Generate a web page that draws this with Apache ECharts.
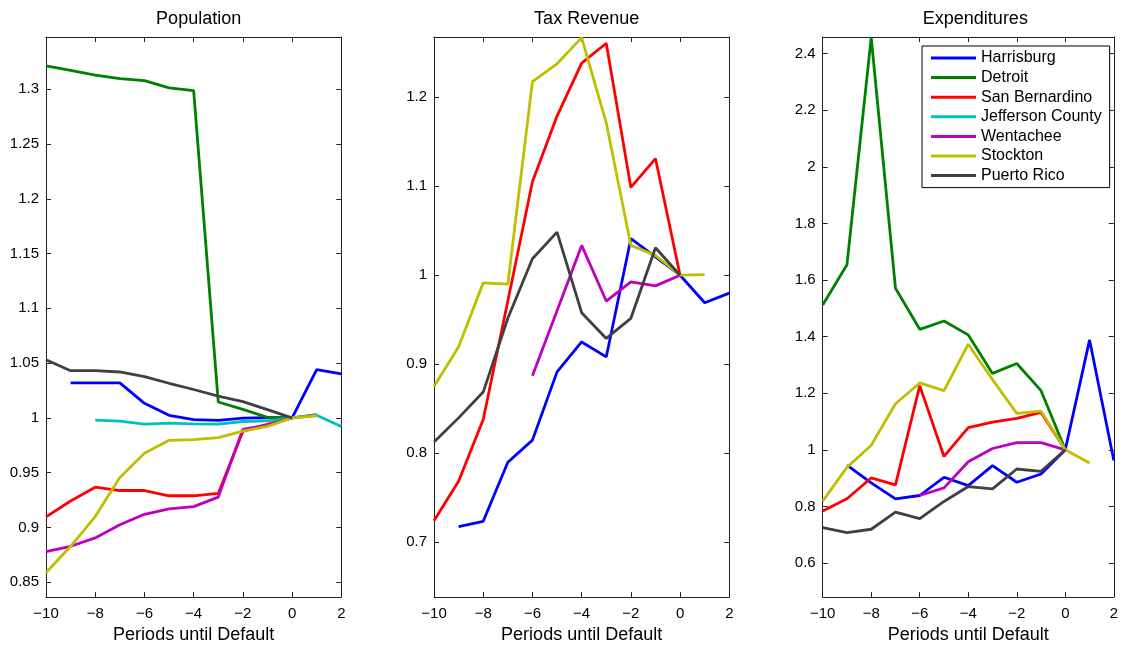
<!DOCTYPE html>
<html>
<head>
<meta charset="utf-8">
<script src="https://cdn.jsdelivr.net/npm/echarts@6/dist/echarts.min.js"></script>
<style>
html,body{margin:0;padding:0;background:#fff;}
#chart{width:1121px;height:649px;}
</style>
</head>
<body>
<div id="chart"></div>
<script>
// ---------- data ----------
const periods = [-10, -9, -8, -7, -6, -5, -4, -3, -2, -1, 0, 1, 2];
const cityNames = ['Harrisburg', 'Detroit', 'San Bernardino', 'Jefferson County', 'Wentachee', 'Stockton', 'Puerto Rico'];
const panelTitles = ['Population', 'Tax Revenue', 'Expenditures'];
const xTicks = [-10, -8, -6, -4, -2, 0, 2];

// Population
const popHarrisburg   = [null, 1.032, 1.032, 1.032, 1.0133, 1.0024, 0.9985, 0.9977, 0.9998, 1.0003, 1.0, 1.0441, 1.0402];
const popDetroit      = [1.3214, 1.3172, 1.313, 1.3097, 1.3079, 1.3012, 1.2988, 1.0145, 1.0078, 1.0005, 1.0, null, null];
const popSanBern      = [0.9096, 0.9241, 0.9367, 0.9337, 0.9337, 0.9289, 0.9289, 0.931, 0.9877, 0.994, 1.0, 1.003, null];
const popJefferson    = [null, null, 0.9979, 0.997, 0.9943, 0.9952, 0.9946, 0.9943, 0.9967, 0.9973, 1.0, 1.0024, 0.9922];
const popWentachee    = [0.878, 0.8828, 0.8904, 0.9024, 0.912, 0.9169, 0.919, 0.9277, 0.9895, 0.9937, 1.0, null, null];
const popStockton     = [0.8587, 0.8828, 0.9099, 0.9455, 0.9678, 0.9795, 0.9801, 0.9819, 0.988, 0.9922, 1.0, 1.0018, null];
const popPuertoRico   = [1.053, 1.0431, 1.0431, 1.0419, 1.0377, 1.0316, 1.0259, 1.0199, 1.0148, 1.0075, 1.0, null, null];

// Tax Revenue
const taxHarrisburg   = [null, 0.7175, 0.7235, 0.7898, 0.8147, 0.8914, 0.925, 0.9082, 1.041, 1.0205, 1.0, 0.9691, 0.9799];
const taxDetroit      = [null, null, null, null, null, null, null, null, null, null, null, null, null];
const taxSanBern      = [0.7242, 0.7685, 0.8378, 0.971, 1.105, 1.1788, 1.2384, 1.2607, 1.0987, 1.1311, 1.0, null, null];
const taxJefferson    = [null, null, null, null, null, null, null, null, null, null, null, null, null];
const taxWentachee    = [null, null, null, null, 0.887, 0.96, 1.0335, 0.971, 0.9926, 0.988, 1.0, null, null];
const taxStockton     = [0.875, 0.9197, 0.9914, 0.99, 1.2175, 1.2376, 1.267, 1.1713, 1.0335, 1.0223, 1.0, 1.0007, null];
const taxPuertoRico   = [0.8125, 0.8397, 0.8687, 0.9517, 1.0186, 1.0484, 0.9579, 0.929, 0.9516, 1.0309, 1.0, null, null];

// Expenditures
const expHarrisburg   = [null, 0.9462, 0.883, 0.8269, 0.8386, 0.9029, 0.8737, 0.9439, 0.8854, 0.9146, 1.0, 1.3883, 0.962];
const expDetroit      = [1.512, 1.654, 2.457, 1.571, 1.4257, 1.455, 1.406, 1.270, 1.305, 1.209, 1.0, null, null];
const expSanBern      = [0.7836, 0.8269, 0.9006, 0.876, 1.2269, 0.9766, 1.0784, 1.0982, 1.1111, 1.1322, 1.0, null, null];
const expJefferson    = [null, null, null, null, null, null, null, null, null, null, null, null, null];
const expWentachee    = [null, null, null, null, 0.8386, 0.8655, 0.9579, 1.0047, 1.0257, 1.0257, 1.0, null, null];
const expStockton     = [0.8187, 0.938, 1.0164, 1.1626, 1.2363, 1.2094, 1.3731, 1.248, 1.1287, 1.1368, 1.0, 0.9532, null];
const expPuertoRico   = [0.7251, 0.7076, 0.7193, 0.7801, 0.7567, 0.8175, 0.8702, 0.862, 0.9322, 0.924, 1.0, null, null];

// Y tick labels and ranges
const popTicks = [0.85, 0.9, 0.95, 1, 1.05, 1.1, 1.15, 1.2, 1.25, 1.3];
const taxTicks = [0.7, 0.8, 0.9, 1, 1.1, 1.2];
const expTicks = [0.6, 0.8, 1, 1.2, 1.4, 1.6, 1.8, 2, 2.2, 2.4];
const popRange = [0.8364, 1.3477];
const taxRange = [0.6383, 1.2677];
const expRange = [0.4796, 2.4586];

// ---------- styling ----------
const colors = ['#0000ff', '#008000', '#ff0000', '#00bfbf', '#bf00bf', '#bfbf00', '#404040'];
const FONT = '"Liberation Sans", Arial, Helvetica, sans-serif';
const AX = '#222';
const gridLefts = [46, 434, 822.7];
const gridW = 295.3, gridTop = 37, gridH = 564;

const panels = [
  { series: [popHarrisburg, popDetroit, popSanBern, popJefferson, popWentachee, popStockton, popPuertoRico], ticks: popTicks, range: popRange },
  { series: [taxHarrisburg, taxDetroit, taxSanBern, taxJefferson, taxWentachee, taxStockton, taxPuertoRico], ticks: taxTicks, range: taxRange },
  { series: [expHarrisburg, expDetroit, expSanBern, expJefferson, expWentachee, expStockton, expPuertoRico], ticks: expTicks, range: expRange }
];

const fmtX = v => (v < 0 ? '\u2212' + Math.abs(v) : String(v));
const fmtY = v => String(+(+v).toFixed(2));

const grid = [], xAxis = [], yAxis = [], series = [], title = [];
panels.forEach((p, i) => {
  grid.push({ left: gridLefts[i], top: gridTop, width: gridW, height: gridH, containLabel: false });
  title.push({
    text: panelTitles[i], left: gridLefts[i] + gridW / 2, top: 5, textAlign: 'center',
    textStyle: { fontFamily: FONT, fontSize: 18, fontWeight: 'normal', color: '#000' }
  });
  // bottom x
  xAxis.push({
    type: 'value', gridIndex: i, position: 'bottom', min: -10, max: 2, interval: 2,
    name: 'Periods until Default', nameLocation: 'middle', nameGap: 26,
    nameTextStyle: { fontFamily: FONT, fontSize: 18, color: '#000' },
    axisLine: { show: true, onZero: false, lineStyle: { color: AX, width: 1 } },
    axisTick: { show: true, inside: true, length: 5, lineStyle: { color: AX } },
    axisLabel: { fontFamily: FONT, fontSize: 15, color: '#000', margin: 9, formatter: fmtX },
    splitLine: { show: false }
  });
  // top x (box + ticks)
  xAxis.push({
    type: 'value', gridIndex: i, position: 'top', min: -10, max: 2, interval: 2,
    axisLine: { show: true, onZero: false, lineStyle: { color: AX, width: 1 } },
    axisTick: { show: true, inside: true, length: 5, lineStyle: { color: AX } },
    axisLabel: { show: false }, splitLine: { show: false }
  });
  // left y
  yAxis.push({
    type: 'value', gridIndex: i, position: 'left', min: p.range[0], max: p.range[1],
    axisLine: { show: true, onZero: false, lineStyle: { color: AX, width: 1 } },
    axisTick: { show: true, inside: true, length: 5, lineStyle: { color: AX }, customValues: p.ticks },
    axisLabel: { fontFamily: FONT, fontSize: 15, color: '#000', margin: 7, customValues: p.ticks, formatter: fmtY },
    splitLine: { show: false }
  });
  // right y
  yAxis.push({
    type: 'value', gridIndex: i, position: 'right', min: p.range[0], max: p.range[1],
    axisLine: { show: true, onZero: false, lineStyle: { color: AX, width: 1 } },
    axisTick: { show: true, inside: true, length: 5, lineStyle: { color: AX }, customValues: p.ticks },
    axisLabel: { show: false }, splitLine: { show: false }
  });
  p.series.forEach((vals, k) => {
    series.push({
      type: 'line', name: cityNames[k], xAxisIndex: i * 2, yAxisIndex: i * 2,
      data: periods.map((x, j) => [x, vals[j]]),
      showSymbol: false, symbol: 'none', connectNulls: false, animation: false,
      lineStyle: { color: colors[k], width: 2.8 }, itemStyle: { color: colors[k] },
      clip: true, z: 2 + k
    });
  });
});

const chart = echarts.init(document.getElementById('chart'), null, { renderer: 'canvas' });
chart.setOption({
  backgroundColor: '#fff',
  animation: false,
  title: title,
  grid: grid,
  xAxis: xAxis,
  yAxis: yAxis,
  legend: {
    data: cityNames, orient: 'vertical', left: 922, top: 46,
    padding: [4, 8, 4, 9], itemGap: 3.6, itemWidth: 45, itemHeight: 3, icon: 'rect',
    backgroundColor: '#fff', borderColor: '#000', borderWidth: 1, borderRadius: 0,
    textStyle: { fontFamily: FONT, fontSize: 16, color: '#000' },
    selectedMode: false, z: 10
  },
  series: series
});
</script>
</body>
</html>
